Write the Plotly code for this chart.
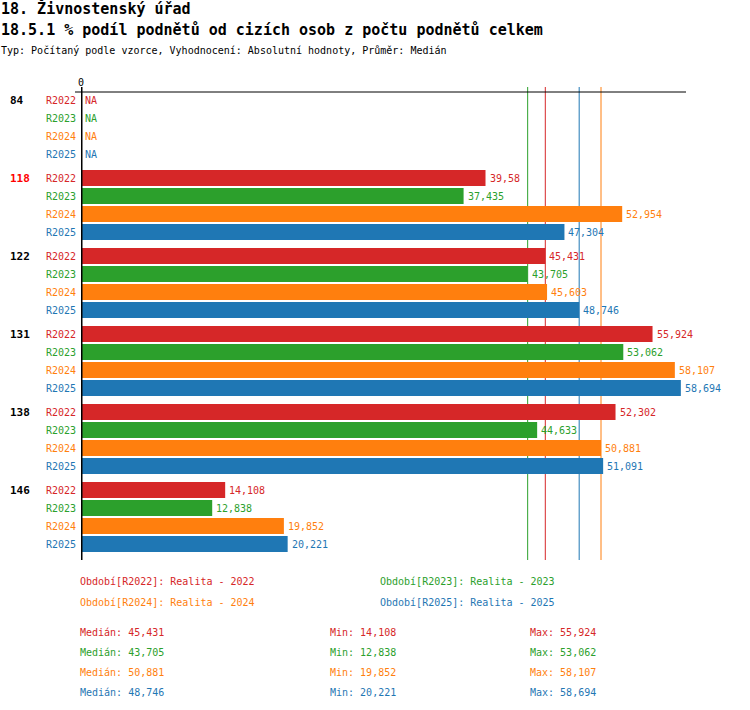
import numpy as np
import plotly.graph_objects as go

categories = ["84", "118", "122", "131", "138", "146"]
highlight = ["118"]
series = ["R2022", "R2023", "R2024", "R2025"]
series_names = ["Realita - 2022", "Realita - 2023", "Realita - 2024", "Realita - 2025"]
colors = ["#d62728", "#2ca02c", "#ff7f0e", "#1f77b4"]

R2022 = [None, 39.58, 45.431, 55.924, 52.302, 14.108]
R2023 = [None, 37.435, 43.705, 53.062, 44.633, 12.838]
R2024 = [None, 52.954, 45.603, 58.107, 50.881, 19.852]
R2025 = [None, 47.304, 48.746, 58.694, 51.091, 20.221]
values = [R2022, R2023, R2024, R2025]

FONT = "DejaVu Sans Mono"
W, H = 750, 710
L, R, T, B = 81, 686, 87, 560
XMAX = (R - L) / 10.22

def px(xp):
    return (xp - L) / (R - L)

def py(yp):
    return (B - yp) / (B - T)

ROW = 18
GROUP = 4 * ROW + 6

def ypos(g, r):
    return g * GROUP + r * ROW

def fmt(v):
    return f"{v:g}".replace(".", ",")

fig = go.Figure()
annotations = []
shapes = []

for si, (s, vals, c) in enumerate(zip(series, values, colors)):
    ys = [ypos(g, si) for g in range(len(categories))]
    xs = [v if v is not None else 0 for v in vals]
    fig.add_trace(go.Bar(
        x=xs, y=ys, orientation="h", width=16,
        marker=dict(color=c, line=dict(width=0)),
        showlegend=False, hoverinfo="skip",
    ))
    for g in range(len(categories)):
        v = vals[g]
        annotations.append(dict(
            xref="x", yref="y", x=xs[g], y=ys[g],
            text=fmt(v) if v is not None else "NA",
            xanchor="left", yanchor="middle", showarrow=False, xshift=2,
            font=dict(family=FONT, size=10, color=c),
        ))
        annotations.append(dict(
            xref="paper", yref="y", x=px(78), y=ys[g], text=s,
            xanchor="right", yanchor="middle", showarrow=False,
            font=dict(family=FONT, size=10, color=c),
        ))
    med = float(np.median([v for v in vals if v is not None]))
    shapes.append(dict(type="line", xref="x", yref="paper", x0=med, x1=med,
                       y0=0, y1=1, line=dict(color=c, width=1), layer="below"))

for g, cat in enumerate(categories):
    annotations.append(dict(
        xref="paper", yref="y", x=px(8), y=ypos(g, 0), text=f"<b>{cat}</b>",
        xanchor="left", yanchor="middle", showarrow=False,
        font=dict(family=FONT, size=11, color="#ff0000" if cat in highlight else "#000000"),
    ))

# axis lines
shapes.append(dict(type="line", xref="paper", yref="paper", x0=px(75), x1=1,
                   y0=py(92), y1=py(92), line=dict(color="black", width=1)))
shapes.append(dict(type="line", xref="x", yref="paper", x0=0, x1=0,
                   y0=0, y1=1, line=dict(color="black", width=3)))
annotations.append(dict(xref="x", yref="paper", x=0, y=py(82), text="0",
                        xanchor="center", yanchor="middle", showarrow=False,
                        font=dict(family=FONT, size=10, color="black")))

# titles
titles = [
    ("<b>18. Živnostenský úřad</b>", 8, 15),
    ("<b>18.5.1 % podíl podnětů od cizích osob z počtu podnětů celkem</b>", 30, 15),
    ("Typ: Počítaný podle vzorce, Vyhodnocení: Absolutní hodnoty, Průměr: Medián", 50, 10),
]
for txt, yy, sz in titles:
    annotations.append(dict(xref="paper", yref="paper", x=px(-1), y=py(yy), text=txt,
                            xanchor="left", yanchor="middle", showarrow=False,
                            font=dict(family=FONT, size=sz, color="black")))

# legend
leg_pos = [(78, 581), (378, 581), (78, 602), (378, 602)]
for (lx, ly), s, n, c in zip(leg_pos, series, series_names, colors):
    annotations.append(dict(xref="paper", yref="paper", x=px(lx), y=py(ly),
                            text=f"Období[{s}]: {n}", xanchor="left", yanchor="middle",
                            showarrow=False, font=dict(family=FONT, size=10, color=c)))

# stats
stat_y = [632, 652, 672, 692]
for si, (vals, c) in enumerate(zip(values, colors)):
    v = [x for x in vals if x is not None]
    for lx, lab, val in [(78, "Medián", np.median(v)), (328, "Min", min(v)), (528, "Max", max(v))]:
        annotations.append(dict(xref="paper", yref="paper", x=px(lx), y=py(stat_y[si]),
                                text=f"{lab}: {fmt(round(float(val), 3))}", xanchor="left",
                                yanchor="middle", showarrow=False,
                                font=dict(family=FONT, size=10, color=c)))

fig.update_layout(
    width=W, height=H,
    margin=dict(l=L, r=W - R, t=T, b=H - B, pad=0),
    plot_bgcolor="white", paper_bgcolor="white",
    barmode="overlay",
    xaxis=dict(range=[0, XMAX], showgrid=False, zeroline=False, showticklabels=False,
               ticks="", showline=False, fixedrange=True),
    yaxis=dict(range=[ypos(5, 3) + 16, -13], showgrid=False, zeroline=False,
               showticklabels=False, ticks="", showline=False, fixedrange=True),
    annotations=annotations, shapes=shapes,
    font=dict(family=FONT, size=10),
)

fig.write_html("out.html", config={"displayModeBar": False},
               post_script="document.body.style.margin='0';document.body.style.overflow='hidden';")
